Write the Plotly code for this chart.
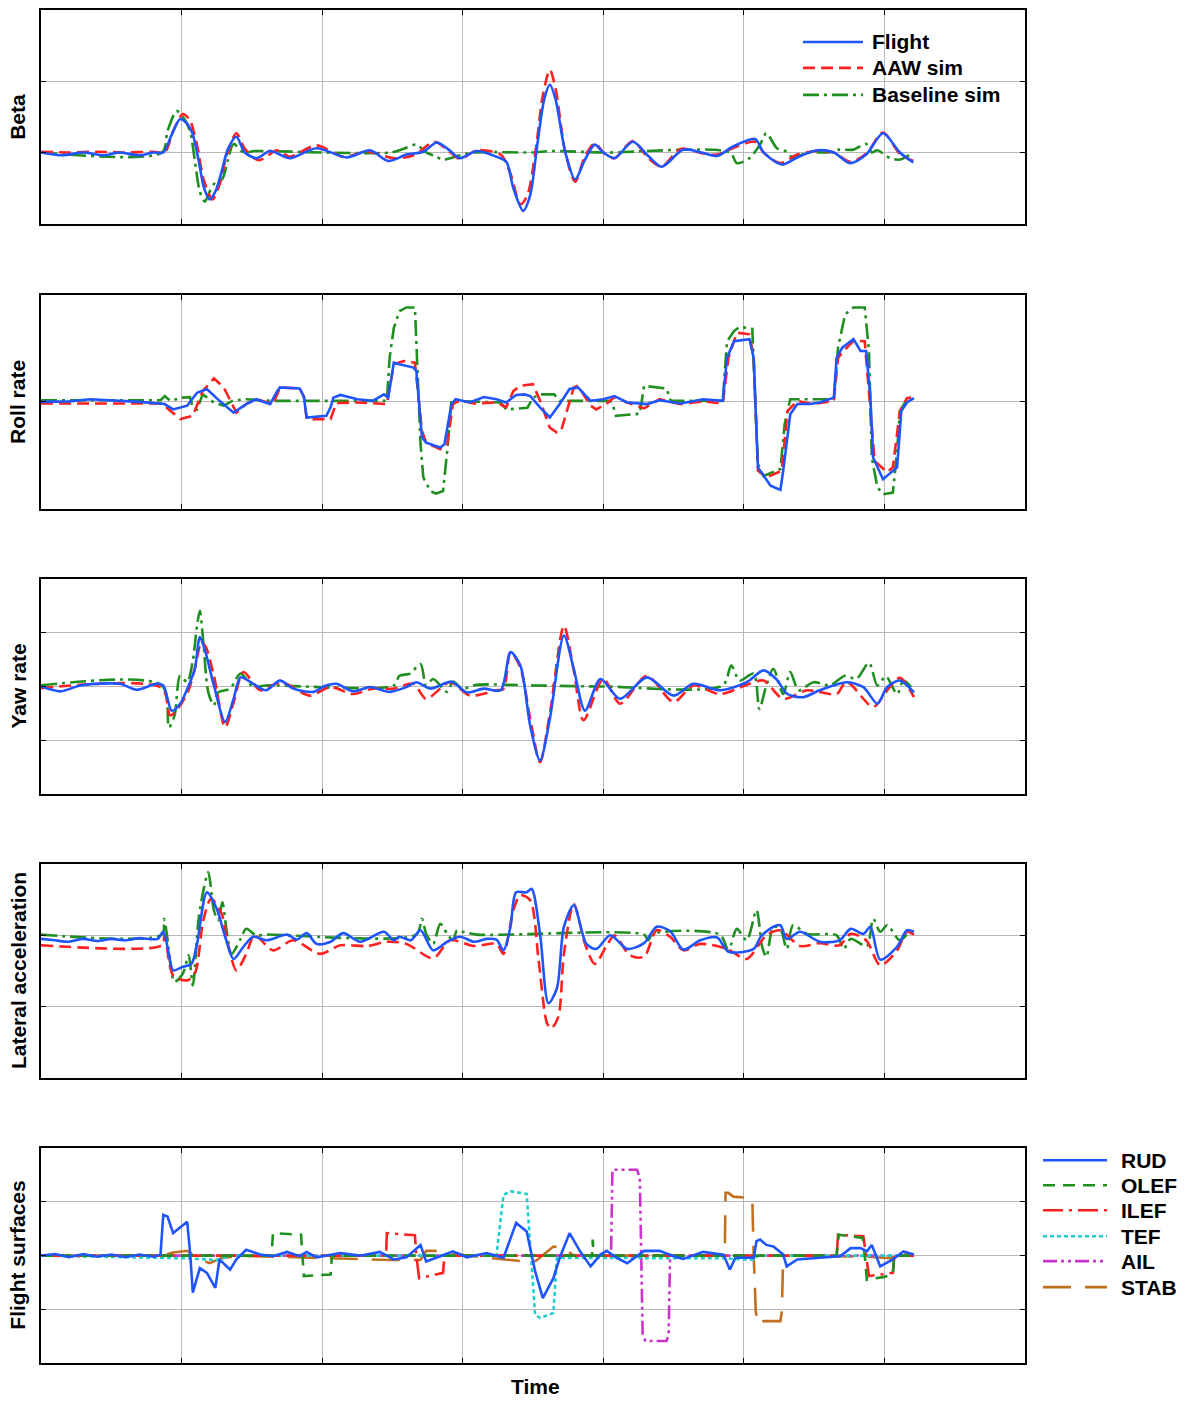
import plotly.graph_objects as go

# ---------------- data: (time, value) samples ----------------
# Beta
beta_flight = [(0,0.0),(1.5,-0.04),(3,0.0),(4.5,-0.04),(5.5,0.0),(7,-0.04),(8,0.0),(8.7,0.0),(9.3,0.25),(9.9,0.47),
    (10.4,0.4),(10.8,0.25),(11.2,-0.1),(11.6,-0.5),(12.0,-0.66),(12.4,-0.55),(12.85,-0.27),(13.3,0.05),(13.9,0.22),
    (14.5,0.0),(15.35,-0.08),(16.3,0.02),(17.7,-0.08),(19.6,0.06),(21.75,-0.07),(23.4,0.03),(24.7,-0.12),(26.0,-0.03),
    (27.2,0.01),(28.15,0.14),(29.0,0.04),(29.8,-0.08),(31.0,0.02),(32.4,-0.06),(33.1,-0.13),(33.6,-0.5),(34.3,-0.82),
    (34.8,-0.6),(35.3,0.1),(35.8,0.75),(36.2,0.95),(36.6,0.75),(37.3,0.0),(38.0,-0.38),(38.7,-0.1),(39.4,0.11),
    (40.0,0.0),(40.8,-0.08),(42.1,0.15),(43.2,-0.05),(44.15,-0.2),(45.7,0.04),(47,0.0),(48.1,-0.05),(49.2,0.08),
    (50.8,0.19),(51.4,0.0),(52.7,-0.17),(53.8,-0.07),(55.2,0.03),(56.4,0.0),(57.55,-0.15),(58.7,-0.03),(59.9,0.27),
    (61.1,0.0),(62.05,-0.14)]
beta_aaw = [(0,0.01),(2,0.0),(4,0.01),(6,0.0),(8,0.01),(8.8,0.0),(9.4,0.3),(10.1,0.54),(10.6,0.45),(11.1,0.1),
    (11.6,-0.4),(12.2,-0.66),(12.7,-0.45),(13.2,-0.05),(13.9,0.27),(14.5,0.05),(15.5,-0.11),(16.8,0.03),(17.7,-0.06),
    (19.6,0.1),(21.5,-0.06),(23.2,0.01),(25.1,-0.08),(26.5,-0.04),(28.0,0.15),(29.0,0.02),(29.8,-0.09),(31.0,0.03),
    (32.7,-0.03),(33.4,-0.3),(34.1,-0.73),(34.6,-0.6),(35.2,0.05),(35.7,0.8),(36.2,1.16),(36.6,0.9),(37.3,0.0),
    (38.0,-0.41),(38.7,-0.05),(39.4,0.13),(40.0,0.0),(40.8,-0.08),(42.1,0.16),(43.2,-0.08),(44.15,-0.2),(45.5,0.05),
    (47,-0.01),(48.1,-0.03),(49.2,0.06),(50.8,0.15),(51.4,0.0),(52.6,-0.15),(53.8,-0.03),(55.2,0.02),(56.4,0.0),
    (57.55,-0.13),(58.7,-0.02),(59.9,0.28),(61.1,-0.02),(62.05,-0.12)]
beta_base = [(0,0.0),(8.6,0.0),(9.0,0.3),(9.65,0.58),(10.1,0.5),(10.6,0.3),(11.0,-0.2),(11.3,-0.55),(11.65,-0.69),
    (12.0,-0.55),(12.4,-0.42),(12.9,-0.37),(13.3,-0.1),(13.7,0.12),(14.4,0.0),(15.2,0.02),(20,0.0),(24.9,0.0),
    (25.9,0.06),(26.7,0.11),(27.4,0.0),(28.0,-0.05),(28.6,-0.1),(29.8,-0.04),(30.8,0.0),(35,0.0),(36.2,0.02),(40,0.0),
    (49.0,0.0),(49.5,-0.15),(50.4,-0.08),(51.15,0.11),(51.6,0.27),(52.35,0.06),(53.05,0.01),(53.5,-0.08),(54.5,0.0),
    (56.0,0.0),(56.8,0.04),(57.8,0.04),(58.7,0.12),(59.1,0.0),(59.5,0.03),(60.4,-0.08),(61.1,-0.1),(61.8,-0.03)]

# Roll rate
roll_flight = [(0,0.0),(2,0.01),(3.5,0.05),(5,0.03),(7,0.0),(8.8,-0.04),(9.4,-0.14),(10.4,-0.07),(11.1,0.17),
    (11.8,0.24),(12.7,0.02),(13.7,-0.2),(14.6,-0.04),(15.3,0.05),(16.3,-0.04),(16.8,0.2),(17.0,0.27),(18.4,0.25),
    (18.7,0.1),(18.9,-0.29),(20.3,-0.26),(20.6,-0.1),(20.8,0.08),(21.3,0.13),(22.5,0.05),(23.6,0.02),(24.4,0.14),
    (24.7,0.08),(25.1,0.73),(25.5,0.7),(26.5,0.64),(26.7,0.58),(27.1,-0.66),(27.4,-0.76),(28.4,-0.85),(28.7,-0.79),
    (29.2,-0.04),(29.5,0.05),(30.5,-0.01),(31.5,0.09),(32.4,0.05),(33.1,-0.01),(33.8,0.13),(34.4,0.14),(34.8,0.11),
    (35.5,-0.1),(36.2,-0.29),(36.9,-0.04),(37.6,0.24),(38.2,0.27),(39.1,0.02),(40.0,0.05),(40.8,0.11),(41.7,-0.01),
    (43.1,-0.04),(44.0,0.03),(45.5,-0.03),(47.1,0.05),(48.5,0.02),(48.8,0.82),(49.3,1.13),(50.4,1.17),(50.7,0.82),
    (51.0,-1.22),(51.4,-1.38),(51.9,-1.56),(52.6,-1.64),(52.8,-1.28),(53.3,-0.23),(53.8,-0.04),(54.7,-0.04),
    (55.4,-0.01),(56.4,0.08),(56.6,0.82),(57.0,1.01),(57.8,1.17),(58.3,0.95),(58.7,0.95),(59.0,0.1),(59.2,-1.04),
    (59.9,-1.44),(60.9,-1.22),(61.2,-0.17),(61.6,-0.01),(62.1,0.07)]
roll_aaw = [(0,-0.03),(8.5,-0.03),(8.9,-0.1),(9.9,-0.32),(10.8,-0.26),(11.5,0.2),(12.3,0.44),(13.0,0.27),
    (13.9,-0.2),(14.6,-0.04),(15.3,0.05),(16.5,-0.04),(16.9,0.2),(17.0,0.27),(18.4,0.25),(18.7,0.1),(18.9,-0.32),
    (20.6,-0.32),(21.0,-0.02),(22.5,-0.01),(24.6,-0.04),(25.1,0.7),(25.8,0.76),(26.6,0.73),(27.1,-0.54),(27.4,-0.76),
    (28.4,-0.88),(28.9,-0.79),(29.3,-0.04),(29.8,0.03),(30.8,-0.03),(32.4,-0.01),(33.1,-0.1),(33.6,0.2),(34.1,0.3),
    (34.8,0.33),(35.0,0.33),(35.5,0.02),(36.2,-0.48),(36.7,-0.57),(37.0,-0.54),(37.9,0.27),(38.2,0.3),(39.1,-0.07),
    (39.5,-0.14),(40.2,-0.04),(40.8,0.09),(41.7,-0.01),(42.9,-0.12),(44.0,0.05),(45.5,-0.04),(47.1,0.01),(48.5,-0.03),
    (48.9,0.82),(49.5,1.29),(50.4,1.26),(50.7,0.82),(51.0,-1.28),(51.6,-1.41),(52.7,-1.28),(53.1,-0.17),(53.8,0.02),
    (54.9,-0.04),(56.4,0.02),(56.7,0.82),(57.1,0.95),(57.8,1.14),(58.6,1.13),(59.0,-0.1),(59.3,-1.1),(60.2,-1.31),
    (60.6,-1.22),(61.1,-0.17),(61.6,0.07),(61.9,0.08)]
roll_base = [(0,0.03),(8.5,0.03),(8.8,0.11),(9.2,0.02),(10.1,0.08),(10.6,0.09),(10.8,-0.1),(11.1,-0.14),(11.5,0.14),
    (12.3,-0.01),(13.0,-0.07),(13.7,0.03),(14.6,0.05),(16.5,0.02),(24.6,0.02),(24.8,0.82),(25.1,1.38),(25.5,1.69),
    (26.0,1.76),(26.6,1.76),(26.7,1.13),(27.0,-0.79),(27.2,-1.41),(27.7,-1.66),(28.1,-1.71),(28.6,-1.66),(28.9,-0.91),
    (29.2,0.02),(32.7,-0.01),(33.1,-0.14),(34.6,-0.11),(35.0,0.08),(35.5,0.14),(36.5,0.14),(36.9,0.02),(40.5,0.02),
    (40.7,-0.07),(40.9,-0.26),(42.6,-0.22),(42.9,0.3),(44.5,0.25),(44.8,0.02),(48.5,0.02),(48.8,1.13),(49.3,1.32),
    (49.7,1.4),(50.6,1.36),(50.8,0.2),(51.0,-1.16),(51.4,-1.38),(52.1,-1.31),(52.6,-1.25),(52.9,-0.42),(53.3,0.05),
    (56.4,0.05),(56.7,1.01),(57.2,1.63),(57.8,1.76),(58.6,1.76),(58.9,0.95),(59.1,-1.04),(59.5,-1.59),(59.9,-1.72),
    (60.6,-1.69),(60.9,-0.91),(61.1,-0.17),(61.6,0.05),(61.9,0.08)]

# Yaw rate
yaw_flight = [(0,0.0),(1.4,-0.09),(2.8,0.02),(5.6,0.05),(6.8,-0.06),(8.2,0.05),(8.7,0.02),(9.3,-0.45),(9.9,-0.32),
    (10.6,0.08),(10.95,0.33),(11.3,0.92),(11.7,0.64),(12.3,0.02),(13.1,-0.66),(13.7,-0.23),(14.2,0.17),(15.1,0.05),
    (16.0,-0.07),(17.0,0.11),(17.95,-0.04),(19.4,-0.1),(20.1,0.0),(21.0,0.05),(22.2,-0.09),(23.4,-0.01),(24.8,-0.1),
    (26.0,-0.01),(26.7,0.08),(27.7,-0.04),(29.2,0.09),(30.3,-0.11),(31.5,-0.04),(32.7,-0.07),(33.4,0.64),(34.1,0.39),
    (34.8,-0.73),(35.5,-1.38),(36.2,-0.6),(37.2,0.95),(37.9,0.33),(38.7,-0.45),(39.8,0.14),(41.2,-0.23),(43.1,0.17),
    (45.0,-0.17),(46.4,0.05),(48.3,-0.07),(50.2,0.08),(51.4,0.3),(52.3,0.14),(53.1,-0.14),(54.2,-0.2),(55.4,-0.07),
    (57.3,0.08),(58.5,-0.01),(59.5,-0.32),(60.2,-0.01),(61.1,0.11),(62.1,-0.11)]
yaw_aaw = [(0,-0.03),(8.6,-0.03),(9.2,-0.54),(9.9,-0.35),(10.5,-0.07),(11.0,0.4),(11.4,0.82),(11.7,0.75),(12.3,0.2),
    (13.1,-0.76),(13.7,-0.3),(14.4,0.27),(15.6,-0.07),(17.1,0.08),(19.1,-0.17),(20.6,-0.01),(22.2,-0.14),(23.6,-0.04),
    (25.1,-0.04),(26.5,0.05),(27.4,-0.23),(29.1,0.08),(30.5,-0.17),(32.4,-0.07),(32.9,-0.05),(33.4,0.64),(34.1,0.35),
    (34.8,-0.6),(35.5,-1.41),(36.2,-0.5),(37.2,1.13),(37.9,0.3),(38.6,-0.63),(40.0,0.14),(41.2,-0.32),(43.1,0.2),
    (45.0,-0.29),(46.4,0.02),(48.3,-0.14),(50.4,0.05),(51.4,0.11),(52.8,-0.23),(54.5,-0.07),(56.6,-0.14),(57.3,0.09),
    (59.2,-0.38),(60.2,-0.07),(61.1,0.16),(62.1,-0.2)]
yaw_base = [(0,0.02),(8.6,0.02),(9.1,-0.76),(9.5,-0.54),(9.9,0.2),(10.4,0.08),(10.8,0.48),(11.1,1.13),(11.3,1.41),
    (11.55,0.82),(11.9,-0.11),(12.3,-0.35),(12.6,-0.11),(13.45,-0.04),(14.2,0.24),(15.1,-0.01),(16,0.02),(25.1,0.02),
    (25.5,0.2),(26.25,0.24),(27.0,0.42),(27.4,0.02),(27.9,0.14),(28.9,-0.1),(29.3,0.09),(30.0,-0.04),(31.0,0.03),
    (35,0.02),(40,0.0),(48.5,0.02),(49.1,0.39),(49.7,0.11),(50.7,0.24),(51.1,-0.42),(51.6,0.02),(52.1,0.33),
    (52.8,-0.14),(53.3,0.27),(53.9,-0.07),(54.95,0.08),(56.1,0.02),(57.2,0.2),(58.0,0.14),(58.9,0.44),(59.5,0.02),
    (60.1,0.19),(60.9,-0.14),(61.35,0.11),(61.9,-0.01)]

# Lateral acceleration
lat_flight = [(0,-0.05),(1,-0.07),(2,-0.09),(3,-0.05),(4,-0.08),(5,-0.05),(6,-0.07),(7,-0.04),(8.3,-0.05),(8.7,0.05),
    (9.1,-0.26),(9.4,-0.49),(10.1,-0.44),(10.7,-0.4),(11.1,-0.12),(11.8,0.6),(12.5,0.37),(13.1,-0.02),(13.7,-0.33),
    (14.4,-0.16),(15.1,-0.02),(16.05,-0.07),(17.5,0.01),(18.2,-0.06),(18.9,0.03),(19.6,-0.12),(20.6,-0.09),(21.5,0.03),
    (22.7,-0.09),(24.4,0.05),(25.1,-0.07),(25.5,-0.02),(26.3,-0.07),(27.0,0.07),(27.9,-0.21),(28.9,-0.09),(29.8,-0.02),
    (30.8,-0.09),(31.7,-0.05),(32.4,-0.06),(32.9,-0.21),(33.4,0.12),(33.8,0.6),(34.55,0.6),(34.9,0.65),(35.5,0.02),
    (36.1,-0.95),(36.7,-0.74),(37.2,0.12),(37.9,0.42),(38.8,-0.12),(39.5,-0.19),(40.5,0.0),(41.7,-0.19),(42.9,-0.11),
    (43.8,0.12),(44.75,0.06),(45.7,-0.2),(46.9,-0.07),(48.1,-0.03),(48.9,-0.23),(50.7,-0.19),(51.2,-0.02),(52.1,0.12),
    (52.6,0.14),(53.05,-0.05),(54.0,0.05),(55.4,-0.09),(56.8,-0.07),(57.6,0.09),(58.5,0.02),(59.0,0.12),(59.7,-0.34),
    (60.9,-0.16),(61.6,0.07),(62.1,0.05)]
lat_aaw = [(0,-0.14),(8.6,-0.14),(8.8,0.0),(9.4,-0.56),(10.4,-0.63),(10.95,-0.53),(11.55,0.21),(12.1,0.51),
    (12.85,0.3),(13.3,-0.12),(13.9,-0.49),(14.6,-0.26),(15.2,0.0),(16.5,-0.21),(17.95,-0.07),(19.85,-0.26),
    (21.3,-0.14),(23.2,-0.15),(24.6,-0.09),(26.0,-0.12),(27.9,-0.32),(29.1,-0.07),(30.8,-0.15),(32.4,-0.12),
    (32.9,-0.26),(33.6,0.35),(34.1,0.56),(34.8,0.49),(35.4,-0.35),(36.0,-1.23),(36.3,-1.3),(36.8,-1.14),(37.2,-0.26),
    (37.9,0.44),(38.7,-0.12),(39.4,-0.4),(40.25,-0.14),(40.8,0.0),(41.9,-0.28),(42.9,-0.3),(43.8,0.07),(44.75,-0.02),
    (45.7,-0.21),(46.9,-0.12),(48.8,-0.19),(50.2,-0.33),(51.6,0.0),(52.6,0.07),(54.0,-0.15),(55.4,-0.11),(56.8,-0.14),
    (57.6,0.02),(58.7,-0.07),(59.7,-0.42),(60.9,-0.21),(61.6,0.05),(62.1,0.01)]
lat_base = [(0,0.01),(8.6,0.01),(8.75,0.23),(8.95,0.02),(9.2,-0.4),(9.5,-0.65),(10.1,-0.53),(10.5,-0.28),(10.8,-0.7),
    (11.2,0.21),(11.6,0.67),(11.9,0.88),(12.3,0.35),(12.6,0.21),(12.9,0.46),(13.2,0.07),(13.55,-0.26),(14.2,-0.05),
    (14.6,0.09),(15.3,0.0),(16,0.01),(26.7,0.01),(27.1,0.23),(27.4,0.02),(27.9,-0.12),(28.4,0.16),(28.9,0.02),
    (29.3,-0.07),(29.6,0.07),(30.0,0.05),(31,0.01),(42.9,0.01),(43.2,-0.07),(43.5,0.02),(48.3,0.01),(48.9,-0.21),
    (49.5,0.09),(50.2,-0.07),(50.9,0.35),(51.3,-0.16),(51.6,-0.3),(52.1,0.12),(52.6,0.09),(53.05,-0.19),(53.5,0.14),
    (54.5,0.02),(56.6,0.0),(57.1,-0.19),(57.6,-0.05),(58.75,-0.15),(59.2,0.23),(59.7,0.05),(60.2,0.14),(61.1,-0.07),
    (61.8,0.07)]

# Flight surfaces
surf_rud = [(0,0.0),(1,0.03),(2,-0.03),(3,0.03),(4,-0.02),(5,0.02),(6,-0.03),(7,0.02),(8.0,-0.02),(8.5,0.02),
    (8.7,0.76),(9.0,0.73),(9.4,0.42),(10.4,0.63),(10.6,0.08),(10.8,-0.69),(11.3,-0.23),(11.8,-0.32),(12.4,-0.6),
    (12.7,-0.07),(13.45,-0.26),(13.9,-0.07),(14.6,0.11),(15.6,0.02),(16.5,-0.01),(17.5,0.07),(18.4,-0.01),(18.9,0.07),
    (19.6,-0.03),(21.3,0.05),(22.7,0.0),(24.1,0.07),(25.1,-0.07),(26.0,-0.03),(27.0,0.2),(27.4,-0.11),(28.4,-0.01),
    (29.3,0.08),(30.3,-0.03),(31.7,0.05),(32.9,-0.04),(33.8,0.61),(34.55,0.45),(35.15,-0.29),(35.7,-0.79),
    (36.45,-0.42),(36.9,-0.04),(37.6,0.42),(38.35,0.08),(39.1,-0.2),(39.8,0.02),(40.25,0.09),(40.95,-0.04),
    (41.7,-0.14),(42.9,0.09),(44.0,0.09),(45.2,-0.03),(45.7,-0.06),(47.1,0.07),(48.55,0.02),(49.0,-0.26),(49.4,-0.04),
    (50.7,-0.04),(50.9,0.27),(51.15,0.3),(51.6,0.2),(52.1,0.17),(52.8,0.02),(53.05,-0.2),(53.8,-0.07),(55.4,-0.04),
    (56.85,-0.01),(57.6,0.14),(58.3,0.14),(58.75,0.08),(59.1,0.2),(59.7,-0.2),(60.6,-0.07),(61.35,0.08),(62.1,0.02)]
surf_olef = [(0,0.0),(16.4,0.0),(16.5,0.42),(18.5,0.39),(18.6,0.0),(18.7,-0.38),(20.6,-0.35),(20.7,0.0),(39.2,0.0),
    (39.25,0.3),(39.3,0.0),(56.6,0.0),(56.75,0.39),(58.45,0.33),(58.6,0.0),(58.75,-0.45),(59.9,-0.4),(60.6,-0.35),
    (60.7,0.0),(62.1,0.0)]
surf_ilef = [(0,0.0),(24.55,0.0),(24.6,0.42),(26.6,0.38),(26.7,0.0),(26.9,-0.42),(28.6,-0.32),(28.7,0.0),(56.6,0.0),
    (56.7,0.39),(58.5,0.36),(58.7,0.0),(58.9,-0.38),(60.6,-0.32),(60.7,0.0),(62.1,0.0)]
surf_tef = [(0,0.0),(10.4,-0.05),(12.5,-0.08),(13.5,0.0),(32.4,0.0),(32.9,1.13),(33.4,1.2),(34.55,1.15),(34.8,0.2),
    (35.15,-1.1),(35.5,-1.16),(36.45,-1.07),(36.7,-0.04),(48.8,-0.05),(50.7,-0.08),(51,0.0),(62.1,0.0)]
surf_ail = [(0,0.0),(40.55,0.0),(40.65,1.6),(42.4,1.6),(42.6,1.45),(42.7,0.0),(42.8,-1.47),(43.0,-1.59),(44.5,-1.59),
    (44.65,-1.47),(44.75,0.0),(62.1,0.0)]
surf_stab = [(0,0.0),(8.6,0.0),(9.4,0.06),(10.4,0.09),(11.1,-0.05),(12.0,-0.14),(12.8,-0.05),(14,0.0),(24.8,-0.08),
    (27.0,-0.08),(27.4,0.09),(28.8,0.09),(30.3,0.0),(34.1,-0.1),(35.2,-0.1),(36.45,0.17),(37.2,0.14),(37.9,0.0),
    (48.55,0.0),(48.65,0.2),(48.7,1.17),(48.9,1.17),(49.25,1.1),(50.6,1.07),(50.7,0.0),(50.85,-1.04),(51.0,-1.28),
    (51.4,-1.22),(52.6,-1.22),(52.7,-1.04),(52.8,0.0),(58.8,-0.02),(60.6,-0.05),(60.7,0.07),(62.1,0.0)]

panel_titles = ["Beta", "Roll rate", "Yaw rate", "Lateral acceleration", "Flight surfaces"]
sim_names = ["Flight", "AAW sim", "Baseline sim"]
surface_names = ["RUD", "OLEF", "ILEF", "TEF", "AIL", "STAB"]

# ---------------- styling ----------------
BLUE, RED, GREEN = "#1f55ff", "#ff2020", "#1f8f1f"
CYAN, MAGENTA, BROWN = "#1fcfcf", "#cc33cc", "#c0701f"
sim_styles = [(BLUE, "solid"), (RED, "12px,6px"), (GREEN, "16px,5px,3px,5px")]
surf_styles = [(BLUE, "solid"), (GREEN, "12px,8px"), (RED, "20px,6px,3px,6px"),
               (CYAN, "4px,3px"), (MAGENTA, "14px,4px,3px,4px,3px,4px"), (BROWN, "28px,14px")]
LW = 2.6
FONT = "Liberation Sans, Arial, Helvetica, sans-serif"
TXT = 21

W, H = 1192, 1401
L, R, T, B = 41, 1025, 8, 1363          # plot block in pixels
panel_px = [(8, 222), (293, 508), (578, 793), (863, 1078), (1148, 1363)]
yranges = [(-1, 2, 1), (-2, 2, 2), (-2, 2, 1), (-2, 1, 1), (-2, 2, 1)]


def py(p):
    return (B - p) / (B - T)


def px(p):
    return (p - L) / (R - L)


fig = go.Figure()


def add(series, k, color, dash, name, shape):
    t = [p[0] for p in series]
    v = [p[1] for p in series]
    fig.add_trace(go.Scatter(
        x=t, y=v, mode="lines", name=name, showlegend=False,
        xaxis="x" if k == 0 else f"x{k+1}", yaxis="y" if k == 0 else f"y{k+1}",
        line=dict(color=color, width=LW, dash=dash, shape=shape,
                  smoothing=0.8 if shape == "spline" else None),
    ))


sim_panels = [
    (beta_flight, beta_aaw, beta_base, "spline"),
    (roll_flight, roll_aaw, roll_base, "linear"),
    (yaw_flight, yaw_aaw, yaw_base, "spline"),
    (lat_flight, lat_aaw, lat_base, "spline"),
]
for k, (f, a, b, shape) in enumerate(sim_panels):
    for s, (c, d), n in zip((b, a, f), sim_styles[::-1], sim_names[::-1]):
        add(s, k, c, d, n, shape)

surf_series = [surf_rud, surf_olef, surf_ilef, surf_tef, surf_ail, surf_stab]
for s, (c, d), n in list(zip(surf_series, surf_styles, surface_names))[::-1]:
    add(s, 4, c, d, n, "linear")

layout = dict(
    width=W, height=H, paper_bgcolor="white", plot_bgcolor="white",
    margin=dict(l=L, r=W - R, t=T, b=H - B, pad=0),
    showlegend=False, font=dict(family=FONT, color="black"),
)
for k, ((top, bot), (y0, y1, dy)) in enumerate(zip(panel_px, yranges)):
    sx = "" if k == 0 else str(k + 1)
    common = dict(showline=True, linecolor="black", linewidth=2, mirror="ticks",
                  ticks="inside", ticklen=5, tickcolor="black", tickwidth=1,
                  showticklabels=False, showgrid=True, gridcolor="#b8b8b8", gridwidth=1,
                  zeroline=False, fixedrange=True)
    layout["xaxis" + sx] = dict(common, domain=[0, 1], range=[0, 70], tick0=0, dtick=10,
                                anchor="y" + sx)
    layout["yaxis" + sx] = dict(common, domain=[py(bot), py(top)], range=[y0, y1],
                                tick0=0, dtick=dy, anchor="x" + sx)

fig.update_layout(**layout)

# axis titles
for k, ((top, bot), title) in enumerate(zip(panel_px, panel_titles)):
    fig.add_annotation(text=f"<b>{title}</b>", xref="paper", yref="paper",
                       x=px(18), y=py((top + bot) / 2), textangle=-90,
                       showarrow=False, xanchor="center", yanchor="middle",
                       font=dict(size=TXT, family=FONT, color="black"))
fig.add_annotation(text="<b>Time</b>", xref="paper", yref="paper", x=px(535), y=py(1387),
                   showarrow=False, xanchor="center", yanchor="middle",
                   font=dict(size=TXT, family=FONT, color="black"))

# legends drawn as line samples plus labels
def legend_block(names, styles, x0, x1, xt, rows, size):
    for n, (c, d), yr in zip(names, styles, rows):
        fig.add_shape(type="line", xref="paper", yref="paper", x0=px(x0), x1=px(x1),
                      y0=py(yr), y1=py(yr), line=dict(color=c, width=LW, dash=d))
        fig.add_annotation(text=f"<b>{n}</b>", xref="paper", yref="paper", x=px(xt), y=py(yr),
                           showarrow=False, xanchor="left", yanchor="middle",
                           font=dict(size=size, family=FONT, color="black"))


legend_block(sim_names, sim_styles, 803, 863, 870, [40, 66, 93], TXT)
legend_block(surface_names, surf_styles, 1043, 1107, 1119, [1160, 1185, 1210, 1236, 1261, 1287], TXT)

fig.write_html("out.html")
